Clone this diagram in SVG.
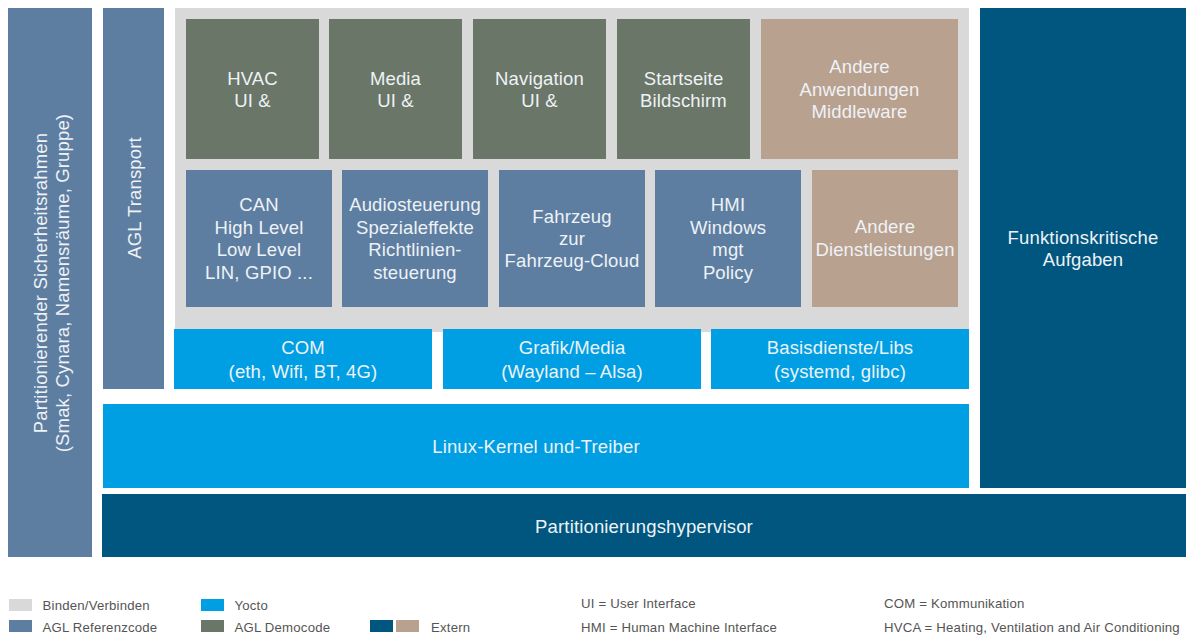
<svg xmlns="http://www.w3.org/2000/svg" width="1186" height="637" viewBox="0 0 1186 637">
<style>
.ref{fill:#5d7ea1}
.demo{fill:#6a7667}
.ext{fill:#b9a18f}
.dark{fill:#00567f}
.yocto{fill:#009fe3}
.bind{fill:#d9d9d9}
.t{font-family:"Liberation Sans",Arial,sans-serif;font-size:18.5px;letter-spacing:0.15px;fill:#eef2f6;text-anchor:middle}
.lg{font-family:"Liberation Sans",Arial,sans-serif;font-size:13.2px;letter-spacing:0.2px;fill:#555555}
</style>
<rect width="1186" height="637" fill="#ffffff"/>

<g id="sicherheitsrahmen">
<rect class="ref" x="8" y="8" width="84" height="549"/>
<text class="t" transform="translate(47,283) rotate(-90)">Partitionierender Sicherheitsrahmen</text>
<text class="t" transform="translate(69,283) rotate(-90)">(Smak, Cynara, Namensräume, Gruppe)</text>
</g>

<g id="agl-transport">
<rect class="ref" x="103" y="8" width="61" height="381"/>
<text class="t" transform="translate(141,198) rotate(-90)">AGL Transport</text>
</g>

<g id="binden">
<rect class="bind" x="175" y="8" width="794" height="324"/>
</g>

<g id="hvac">
<rect class="demo" x="186" y="19" width="133" height="140"/>
<text class="t" x="252.5" y="85">HVAC</text>
<text class="t" x="252.5" y="107">UI &amp;</text>
</g>
<g id="media">
<rect class="demo" x="329" y="19" width="133" height="140"/>
<text class="t" x="395.5" y="85">Media</text>
<text class="t" x="395.5" y="107">UI &amp;</text>
</g>
<g id="navigation">
<rect class="demo" x="473" y="19" width="133" height="140"/>
<text class="t" x="539.5" y="85">Navigation</text>
<text class="t" x="539.5" y="107">UI &amp;</text>
</g>
<g id="startseite">
<rect class="demo" x="617" y="19" width="133" height="140"/>
<text class="t" x="683.5" y="85">Startseite</text>
<text class="t" x="683.5" y="107">Bildschirm</text>
</g>
<g id="andere-anwendungen">
<rect class="ext" x="761" y="19" width="197" height="140"/>
<text class="t" x="859.5" y="73">Andere</text>
<text class="t" x="859.5" y="96">Anwendungen</text>
<text class="t" x="859.5" y="118">Middleware</text>
</g>

<g id="can">
<rect class="ref" x="186" y="170" width="146" height="137"/>
<text class="t" x="259" y="211">CAN</text>
<text class="t" x="259" y="233.5">High Level</text>
<text class="t" x="259" y="256">Low Level</text>
<text class="t" x="259" y="278.5">LIN, GPIO ...</text>
</g>
<g id="audio">
<rect class="ref" x="342" y="170" width="146" height="137"/>
<text class="t" x="415" y="211">Audiosteuerung</text>
<text class="t" x="415" y="233.5">Spezialeffekte</text>
<text class="t" x="415" y="256">Richtlinien-</text>
<text class="t" x="415" y="278.5">steuerung</text>
</g>
<g id="fahrzeug">
<rect class="ref" x="499" y="170" width="146" height="137"/>
<text class="t" x="572" y="223">Fahrzeug</text>
<text class="t" x="572" y="245">zur</text>
<text class="t" x="572" y="267">Fahrzeug-Cloud</text>
</g>
<g id="hmi">
<rect class="ref" x="655" y="170" width="146" height="137"/>
<text class="t" x="728" y="211">HMI</text>
<text class="t" x="728" y="233.5">Windows</text>
<text class="t" x="728" y="256">mgt</text>
<text class="t" x="728" y="278.5">Policy</text>
</g>
<g id="andere-dienste">
<rect class="ext" x="812" y="170" width="146" height="137"/>
<text class="t" x="885" y="233">Andere</text>
<text class="t" x="885" y="256">Dienstleistungen</text>
</g>

<g id="com">
<rect class="yocto" x="174" y="329" width="258" height="60"/>
<text class="t" x="303" y="354">COM</text>
<text class="t" x="303" y="378">(eth, Wifi, BT, 4G)</text>
</g>
<g id="grafik">
<rect class="yocto" x="443" y="329" width="258" height="60"/>
<text class="t" x="572" y="354">Grafik/Media</text>
<text class="t" x="572" y="378">(Wayland – Alsa)</text>
</g>
<g id="basis">
<rect class="yocto" x="711" y="329" width="258" height="60"/>
<text class="t" x="840" y="354">Basisdienste/Libs</text>
<text class="t" x="840" y="378">(systemd, glibc)</text>
</g>

<g id="linux">
<rect class="yocto" x="103" y="404" width="866" height="84"/>
<text class="t" x="536" y="453">Linux-Kernel und-Treiber</text>
</g>

<g id="funktionskritisch">
<rect class="dark" x="980" y="8" width="206" height="480"/>
<text class="t" x="1083" y="244">Funktionskritische</text>
<text class="t" x="1083" y="266">Aufgaben</text>
</g>

<g id="hypervisor">
<rect class="dark" x="102" y="494" width="1084" height="63"/>
<text class="t" x="644" y="533">Partitionierungshypervisor</text>
</g>

<g id="connectors"></g>

<g id="legende">
<rect class="bind" x="9" y="599" width="23" height="12"/>
<text class="lg" x="42.5" y="610">Binden/Verbinden</text>
<rect class="ref" x="9" y="620" width="23" height="12"/>
<text class="lg" x="42.5" y="631.5">AGL Referenzcode</text>
<rect class="yocto" x="201" y="599" width="23" height="12"/>
<text class="lg" x="234.5" y="610">Yocto</text>
<rect class="demo" x="201" y="620" width="23" height="12"/>
<text class="lg" x="234.5" y="631.5">AGL Democode</text>
<rect class="dark" x="370" y="620" width="23" height="12"/>
<rect class="ext" x="396" y="620" width="23" height="12"/>
<text class="lg" x="431" y="631.5">Extern</text>
<text class="lg" x="581" y="608">UI = User Interface</text>
<text class="lg" x="581" y="631.5">HMI = Human Machine Interface</text>
<text class="lg" x="884" y="608">COM = Kommunikation</text>
<text class="lg" x="884" y="631.5">HVCA = Heating, Ventilation and Air Conditioning</text>
</g>
</svg>
